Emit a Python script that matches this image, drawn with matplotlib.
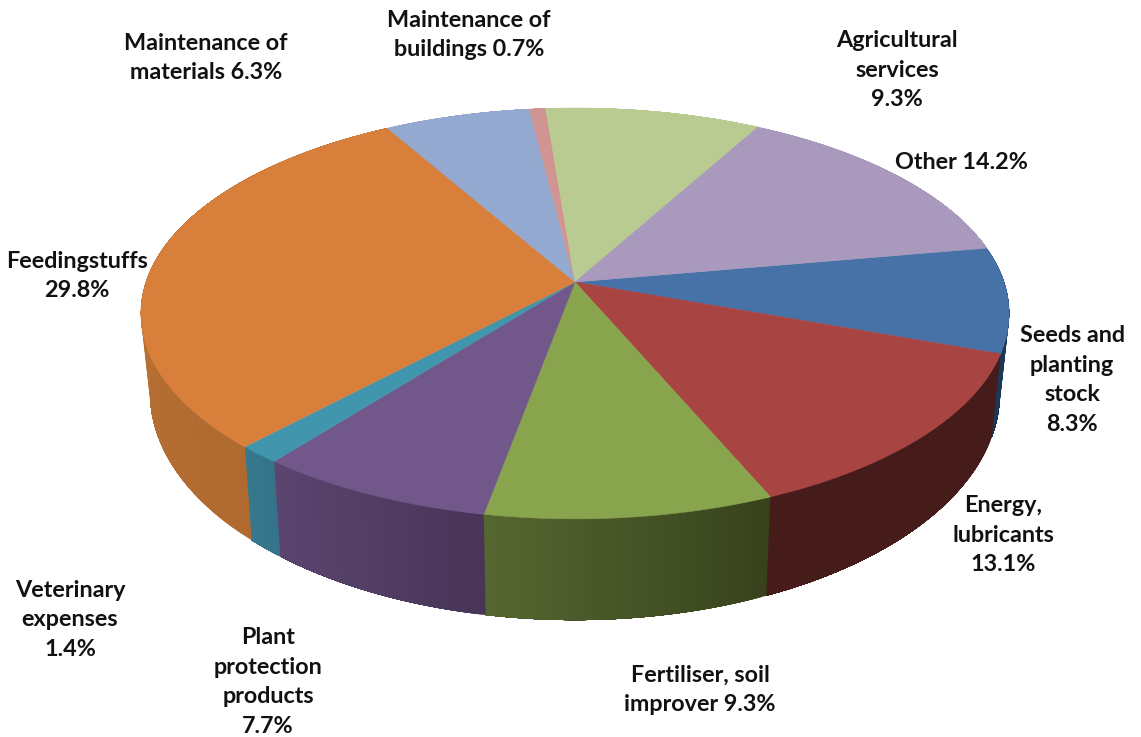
import numpy as np
import matplotlib
matplotlib.use("Agg")
import matplotlib.pyplot as plt
from matplotlib.patches import Polygon
from matplotlib.colors import to_rgb

plt.rcParams['font.family'] = ['Lato', 'DejaVu Sans']

categories = ["Seeds and\nplanting\nstock", "Energy,\nlubricants", "Fertiliser, soil\nimprover", "Plant\nprotection\nproducts",
              "Veterinary\nexpenses", "Feedingstuffs", "Maintenance of\nmaterials", "Maintenance of\nbuildings",
              "Agricultural\nservices", "Other"]
values = [8.3, 13.1, 9.3, 7.7, 1.4, 29.8, 6.3, 0.7, 9.3, 14.2]
label_text = ["Seeds and\nplanting\nstock\n8.3%", "Energy,\nlubricants\n13.1%", "Fertiliser, soil\nimprover 9.3%",
              "Plant\nprotection\nproducts\n7.7%", "Veterinary\nexpenses\n1.4%", "Feedingstuffs\n29.8%",
              "Maintenance of\nmaterials 6.3%", "Maintenance of\nbuildings 0.7%", "Agricultural\nservices\n9.3%",
              "Other 14.2%"]
label_xy = [(1072, 380), (1003, 535), (700, 690), (268, 682), (70, 620), (77, 276),
            (206, 58), (469, 35), (897, 70), (961, 162)]
top_colors = ["#4672a8", "#a84442", "#88a44d", "#72578a", "#4195ad", "#d77f3b",
              "#93a9cf", "#d09593", "#bacb91", "#a899bd"]
side_left = ["#1c3858", "#461c1a", "#566630", "#5b4570", "#37788d", "#c07a38",
             "#93a9cf", "#d09593", "#bacb91", "#a899bd"]
side_right = ["#1a3350", "#461c1a", "#37421c", "#493558", "#357488", "#b06a30",
              "#93a9cf", "#d09593", "#bacb91", "#a899bd"]

START_DEG = 10.0
K = 0.153
AX, BY = 429.0, 200.6
CX, CY = 575.0, 282.0
BOT_CX, BOT_CY, BOT_AX, BOT_BY = 575.0, 358.0, 420.0, 222.0


def project(t, cx, cy, a, b):
    u, v = np.cos(t), np.sin(t)
    w = 1 + K * v
    return cx + a * u / w, cy - b * v / w


fig = plt.figure(figsize=(11.41, 7.37), dpi=100)
ax = fig.add_axes([0, 0, 1, 1])
ax.set_xlim(0, 1141)
ax.set_ylim(737, 0)
ax.axis('off')

edges = np.radians(START_DEG - np.concatenate([[0], np.cumsum(values)]) * 360.0 / sum(values))

# sides: each band overpaints the rest of its slice, so no seams appear in the gradient
for i in range(len(values)):
    ts = np.linspace(edges[i], edges[i + 1], 60)
    xt, yt = project(ts, CX, CY, AX, BY)
    xb, yb = project(ts, BOT_CX, BOT_CY, BOT_AX, BOT_BY)
    c1, c2 = np.array(to_rgb(side_right[i])), np.array(to_rgb(side_left[i]))
    for j in range(len(ts) - 1):
        f = j / (len(ts) - 2)
        pts = np.column_stack([np.r_[xt[j:], xb[j:][::-1]], np.r_[yt[j:], yb[j:][::-1]]])
        ax.add_patch(Polygon(pts, closed=True, facecolor=c1 * (1 - f) + c2 * f, edgecolor='none', zorder=2))

# top faces
for i in range(len(values)):
    ts = np.linspace(edges[i], edges[i + 1], 120)
    x, y = project(ts, CX, CY, AX, BY)
    pts = np.column_stack([np.r_[CX, x], np.r_[CY, y]])
    ax.add_patch(Polygon(pts, closed=True, facecolor=top_colors[i], edgecolor=top_colors[i], linewidth=0.4, zorder=3))

for s, (lx, ly) in zip(label_text, label_xy):
    ax.text(lx, ly, s, ha='center', va='center', fontsize=16.8, fontweight='bold', color='#111111',
            linespacing=1.52, zorder=5)

fig.savefig("out.png", dpi=100, facecolor='white')
